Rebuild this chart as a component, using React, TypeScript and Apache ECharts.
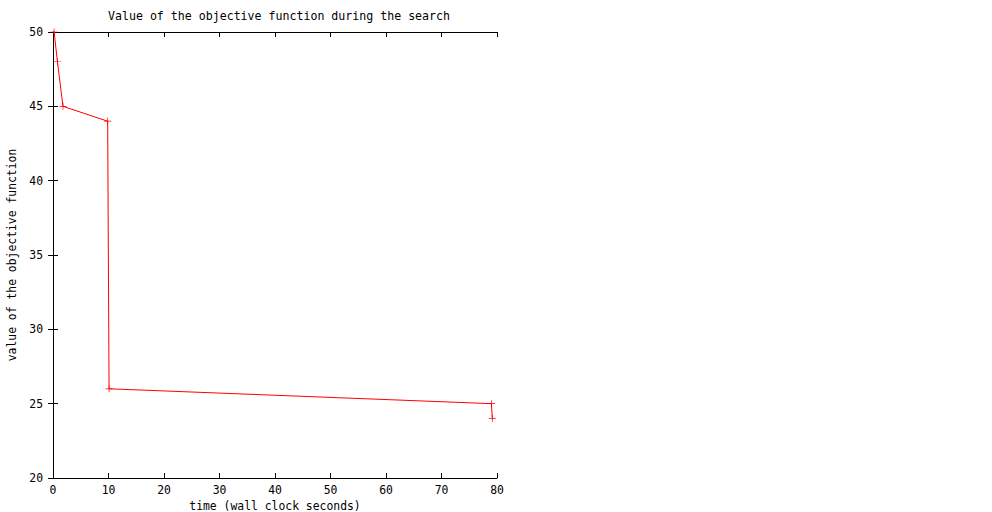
import React, { useEffect, useRef } from "react";
import * as echarts from "echarts";

const times = [0.2, 0.8, 1.8, 9.85, 10.1, 79.0, 79.15];
const values = [50, 48, 45, 44, 26, 25, 24];
const title = "Value of the objective function during the search";
const xName = "time (wall clock seconds)";
const yName = "value of the objective function";

const FONT = "'DejaVu Sans Mono', 'Liberation Mono', monospace";
const FS = 11.4;

export default function App() {
  const ref = useRef<HTMLDivElement>(null);
  useEffect(() => {
    if (!ref.current) return;
    const chart = echarts.init(ref.current, null, { renderer: "svg" });
    const plus = "path://M4.5,0h1v4.5h4.5v1h-4.5v4.5h-1v-4.5h-4.5v-1h4.5z";
    const axisCommon = {
      axisLine: { show: true, lineStyle: { color: "#000", width: 1 } },
      axisTick: { show: true, inside: true, length: 5, lineStyle: { color: "#000" } },
      splitLine: { show: false },
      axisLabel: { fontFamily: FONT, fontSize: FS, color: "#000" },
    };
    chart.setOption({
      animation: false,
      backgroundColor: "#fff",
      title: {
        text: title,
        left: 103,
        top: 5,
        textStyle: { fontFamily: FONT, fontSize: 11.6, fontWeight: "normal", color: "#000" },
      },
      grid: {
        left: 53,
        width: 444,
        top: 32,
        height: 446,
        containLabel: false,
        outerBoundsMode: "none",
      },
      xAxis: [
        {
          ...axisCommon,
          type: "value",
          min: 0,
          max: 80,
          interval: 10,
          position: "bottom",
          name: xName,
          nameLocation: "middle",
          nameGap: 22,
          nameTextStyle: { fontFamily: FONT, fontSize: FS, color: "#000" },
          axisLabel: { ...axisCommon.axisLabel, margin: 6 },
        },
        {
          ...axisCommon,
          type: "value",
          min: 0,
          max: 80,
          interval: 10,
          position: "top",
          axisLabel: { show: false },
        },
      ],
      yAxis: [
        {
          ...axisCommon,
          type: "value",
          min: 20,
          max: 50,
          interval: 5,
          position: "left",
          name: yName,
          nameLocation: "middle",
          nameGap: 36,
          nameRotate: 90,
          nameTextStyle: { fontFamily: FONT, fontSize: FS, color: "#000" },
          axisLabel: { ...axisCommon.axisLabel, margin: 10 },
        },
        {
          ...axisCommon,
          type: "value",
          min: 20,
          max: 50,
          interval: 5,
          position: "right",
          axisLabel: { show: false },
        },
      ],
      series: [
        {
          type: "line",
          xAxisIndex: 0,
          yAxisIndex: 0,
          data: times.map((t, i) => [t, values[i]]),
          lineStyle: { color: "#ff0000", width: 1 },
          itemStyle: { color: "#ff0000" },
          symbol: plus,
          symbolSize: 7,
          showSymbol: true,
          clip: false,
        },
      ],
    });
    return () => chart.dispose();
  }, []);
  return <div ref={ref} style={{ width: 992, height: 512, position: "fixed", left: 0, top: 0 }} />;
}
